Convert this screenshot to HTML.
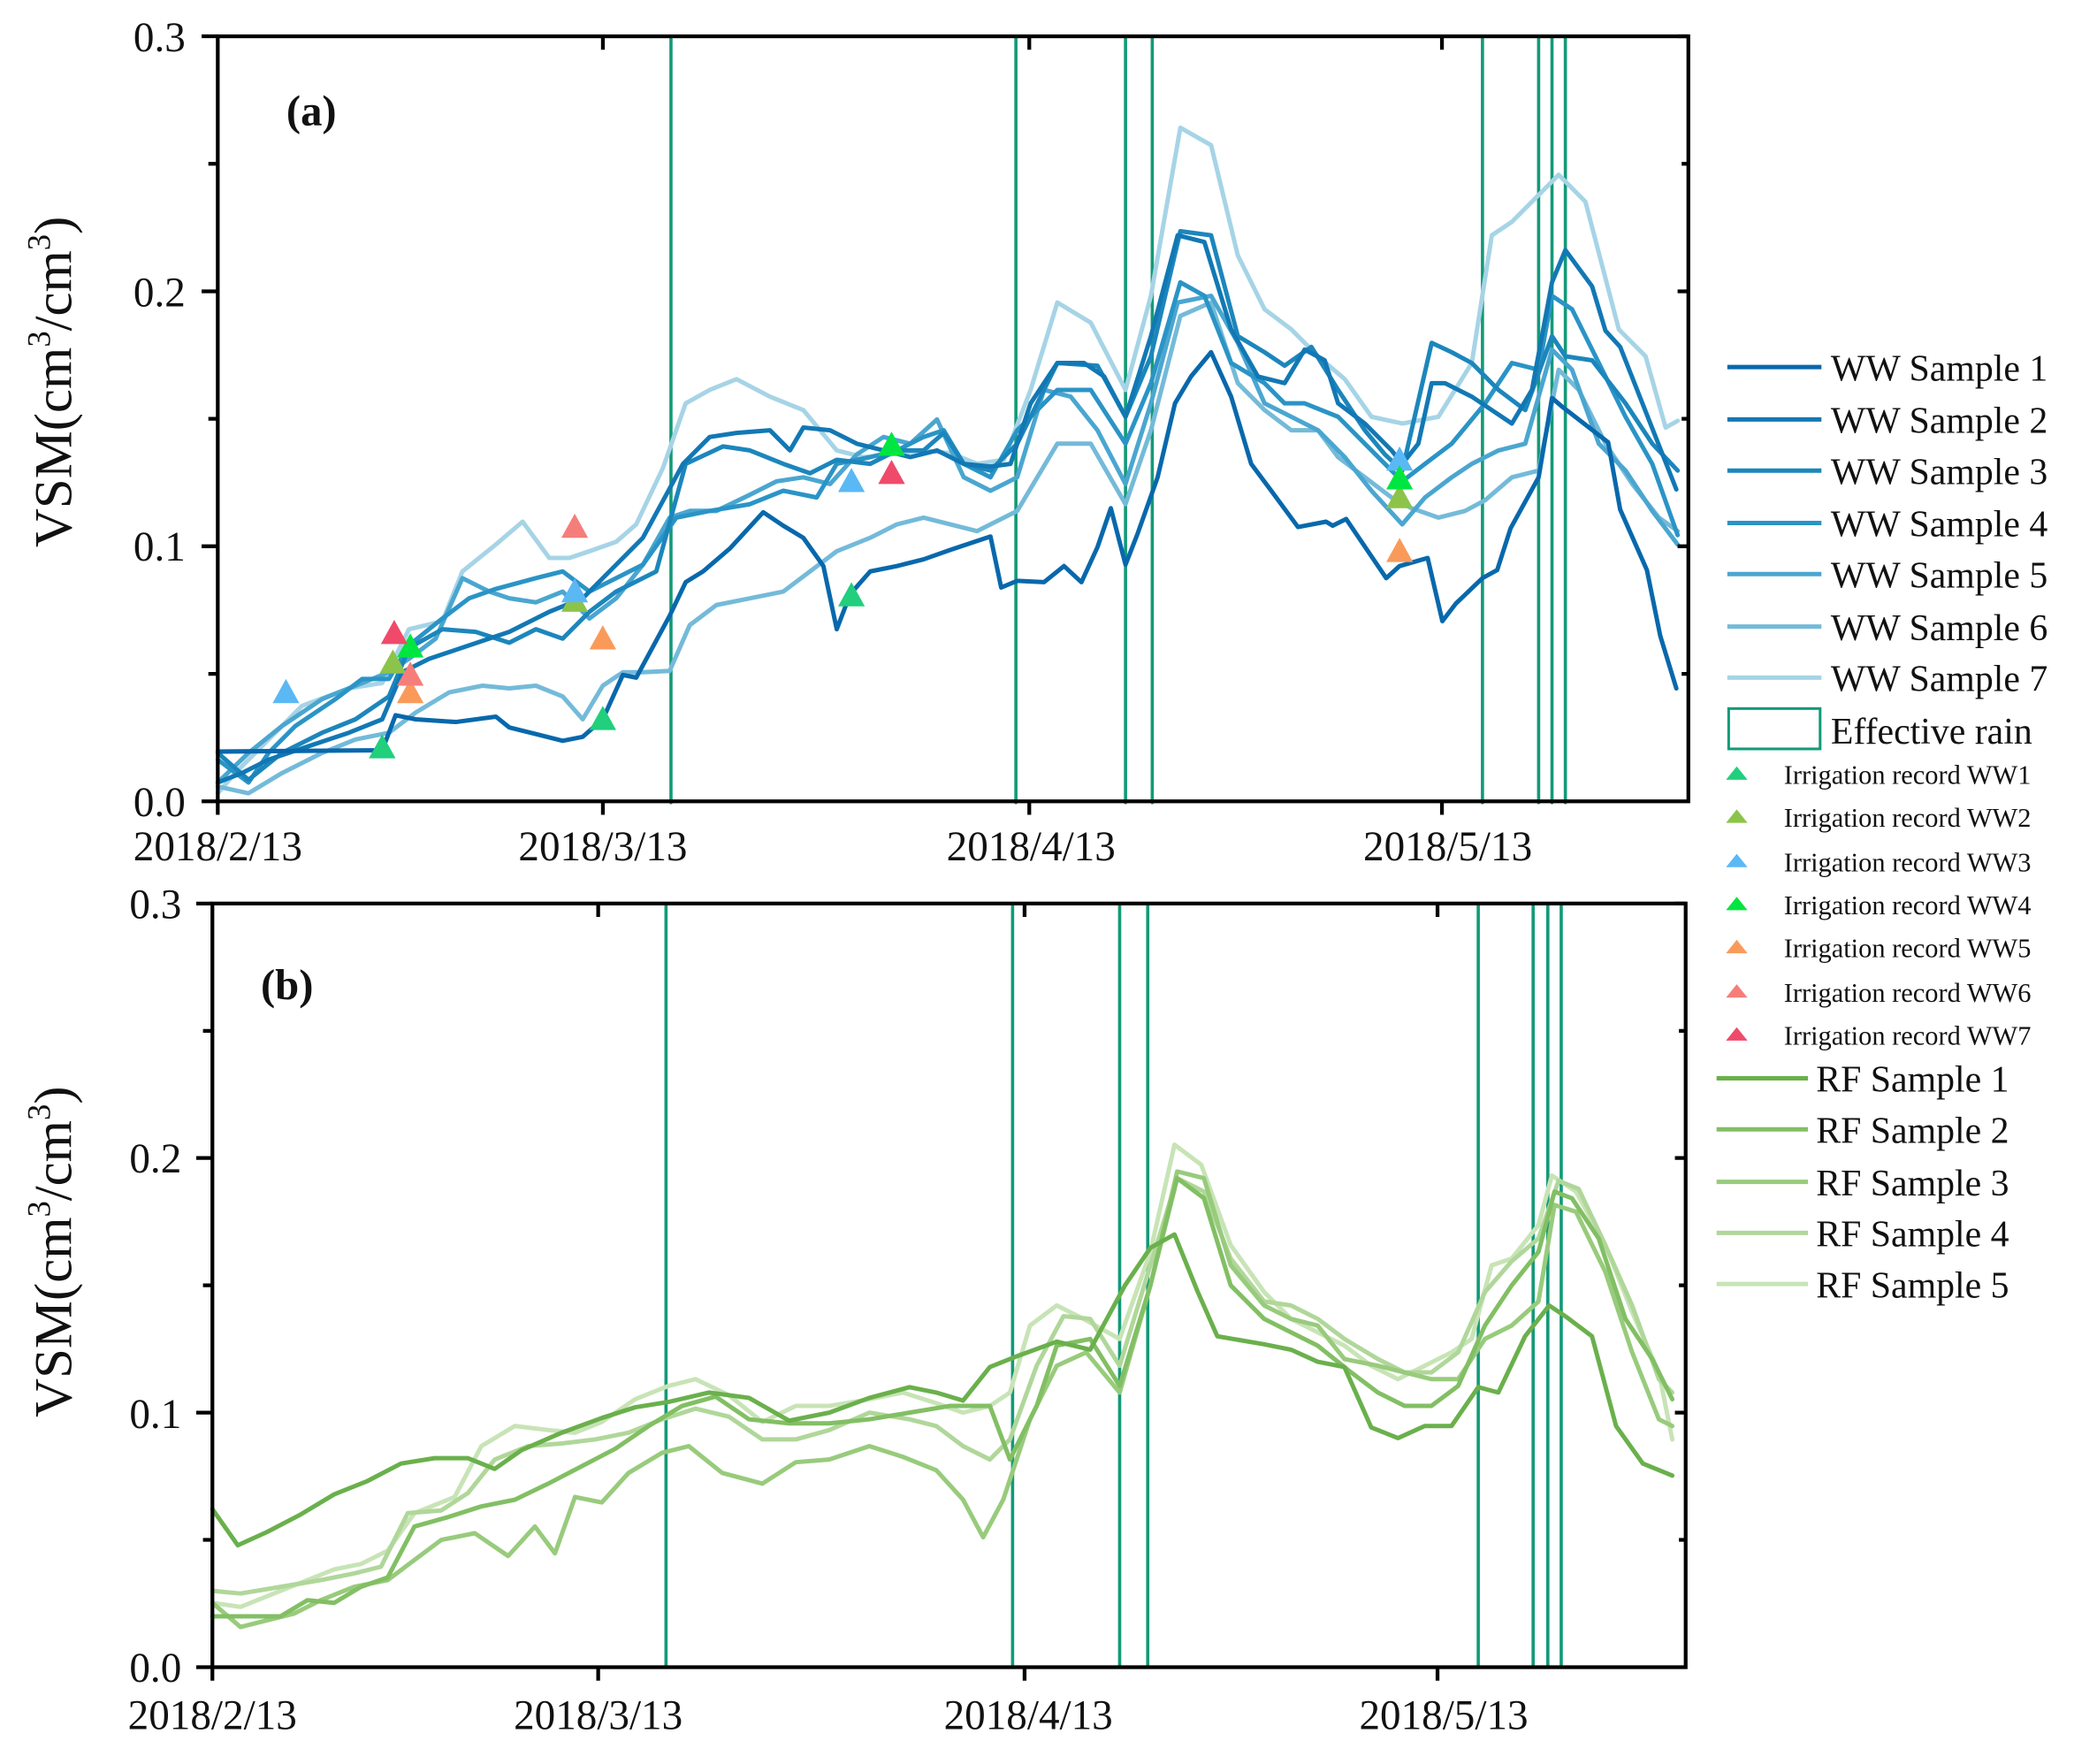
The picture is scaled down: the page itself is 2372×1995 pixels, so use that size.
<!DOCTYPE html>
<html><head><meta charset="utf-8"><style>
html,body{margin:0;padding:0;background:#fff;}
svg{display:block;}
text{font-family:"Liberation Serif",serif;fill:#111;}
</style></head><body>
<svg width="2372" height="1995" viewBox="0 0 1560 1312" preserveAspectRatio="none" xmlns="http://www.w3.org/2000/svg">
<rect width="1560" height="1312" fill="#fff"/>
<defs><path id="tri" d="M0,-10 L10,8 L-10,8 Z"/></defs>
<!-- Panel a data -->
<g transform="matrix(0.99455,0,0,1,0.883,0)">
<g fill="none" stroke-linejoin="round" stroke-linecap="round" stroke-width="3.3">
<g stroke="#149a78" stroke-width="2.4">
<line x1="501" y1="27" x2="501" y2="597"/><line x1="759" y1="27" x2="759" y2="597"/><line x1="841" y1="27" x2="841" y2="597"/><line x1="861" y1="27" x2="861" y2="597"/>
<line x1="1108" y1="27" x2="1108" y2="597"/><line x1="1150" y1="27" x2="1150" y2="597"/><line x1="1160" y1="27" x2="1160" y2="597"/><line x1="1170" y1="27" x2="1170" y2="597"/>
</g>
<polyline stroke="#a6d4e6" points="162,590 175,575 195,555 225,525 260,512 285,508 305,468 330,462 345,425 370,405 390,388 410,415 425,415 440,410 460,403 475,390 495,348 512,300 530,290 550,282 575,295 600,305 625,335 645,340 665,338 690,335 710,337 730,345 750,342 770,290 790,225 815,240 841,290 860,220 882,95 905,108 925,190 945,230 965,245 985,265 1005,282 1025,310 1048,315 1075,310 1100,270 1115,175 1130,165 1150,145 1165,130 1185,150 1210,245 1230,265 1245,318 1254,313"/>
<polyline stroke="#74bad9" points="162,585 185,590 210,575 240,560 265,550 290,545 310,530 335,515 360,510 380,512 400,510 420,518 435,535 450,510 465,500 480,500 500,499 515,465 535,450 560,445 585,440 605,425 625,410 650,400 670,390 690,385 710,390 730,395 760,380 790,330 815,330 841,375 860,320 882,235 905,225 925,285 945,305 965,320 985,320 1000,340 1020,355 1040,370 1055,378 1075,385 1095,380 1110,372 1130,355 1150,350 1165,275 1180,290 1200,330 1220,360 1240,385 1254,395"/>
<polyline stroke="#4aa6d0" points="162,582 185,560 210,540 240,520 265,510 290,500 305,490 325,475 345,430 365,440 380,445 400,448 420,440 440,460 460,445 480,420 500,385 515,380 535,380 560,368 580,358 600,355 620,360 640,338 660,325 680,330 700,312 720,355 740,365 760,355 780,290 800,295 820,320 841,360 860,300 880,225 905,220 925,255 945,300 965,310 985,320 1005,340 1025,365 1048,390 1065,370 1085,355 1100,345 1120,335 1140,330 1160,260 1175,275 1195,330 1215,350 1235,380 1254,405"/>
<polyline stroke="#2a94c6" points="162,565 185,582 200,560 220,540 250,520 270,505 290,505 305,480 330,460 350,445 370,438 400,430 420,425 440,440 460,430 480,420 505,385 530,380 560,375 585,365 610,370 625,345 650,340 670,335 690,325 705,320 720,345 740,355 760,320 790,290 815,290 841,330 860,285 882,210 900,220 920,270 945,285 960,300 975,300 1000,310 1020,330 1040,350 1048,358 1065,345 1085,330 1110,300 1130,270 1150,275 1160,220 1175,230 1195,270 1215,310 1235,345 1254,398"/>
<polyline stroke="#1c86bc" points="162,560 185,580 210,560 240,545 265,535 290,518 305,482 330,468 355,470 380,478 400,468 420,475 440,455 460,440 490,425 512,345 540,332 560,335 585,345 605,352 625,342 650,345 670,335 690,335 705,322 720,345 740,350 760,330 790,270 820,272 841,310 860,265 882,172 905,175 925,250 945,262 960,272 980,258 1000,290 1020,320 1035,338 1048,350 1070,255 1085,262 1100,270 1120,290 1140,305 1160,250 1170,265 1190,268 1215,300 1235,330 1254,350"/>
<polyline stroke="#1278b4" points="162,582 180,575 200,565 230,555 260,545 285,535 300,500 320,490 350,480 380,470 410,455 435,445 460,420 480,400 510,345 530,325 550,322 575,320 590,335 600,318 620,320 640,330 660,335 680,340 700,335 720,345 740,347 755,345 770,300 790,270 810,270 825,280 841,310 860,250 880,175 900,180 920,245 940,280 960,285 975,260 990,268 1000,300 1020,315 1040,335 1048,345 1060,330 1070,285 1080,285 1100,295 1115,305 1130,315 1145,290 1160,210 1170,186 1190,213 1200,246 1211,258 1253,364"/>
<polyline stroke="#0868ac" points="162,559 285,558 295,532 310,535 340,537 370,533 380,541 400,546 420,551 435,548 450,535 465,502 475,504 500,458 512,433 525,425 545,408 570,381 585,391 600,400 615,421 625,468 635,442 650,425 670,421 690,416 710,409 740,399 748,437 760,432 780,433 795,421 808,433 820,407 830,378 841,420 850,397 865,355 878,300 890,280 905,262 920,295 935,345 950,365 970,392 991,388 996,391 1006,386 1036,430 1046,421 1067,415 1078,462 1088,449 1108,430 1119,424 1129,393 1150,355 1160,296 1167,302 1202,329 1211,379 1231,424 1241,473 1253,512"/>
</g>
<g fill="#21cf7d"><use href="#tri" x="285" y="556"/><use href="#tri" x="450" y="535"/><use href="#tri" x="636" y="443"/></g>
<g fill="#8cc44a"><use href="#tri" x="293" y="493"/><use href="#tri" x="429" y="447"/><use href="#tri" x="1046" y="370"/></g>
<g fill="#5ab8f5"><use href="#tri" x="213" y="515"/><use href="#tri" x="429" y="440"/><use href="#tri" x="636" y="358"/><use href="#tri" x="1046" y="342"/></g>
<g fill="#00e640"><use href="#tri" x="306" y="481"/><use href="#tri" x="666" y="331"/><use href="#tri" x="1046" y="356"/></g>
<g fill="#fa9a5a"><use href="#tri" x="306" y="515"/><use href="#tri" x="450" y="475"/><use href="#tri" x="1046" y="410"/></g>
<g fill="#f57e7a"><use href="#tri" x="306" y="502"/><use href="#tri" x="429" y="392"/></g>
<g fill="#f04a6a"><use href="#tri" x="294" y="471"/><use href="#tri" x="666" y="352"/></g>
</g>
<!-- Panel b data -->
<g transform="matrix(0.99546,0,0,0.99649,-0.28,-0.63)">
<g fill="none" stroke-linejoin="round" stroke-linecap="round" stroke-width="3.3">
<g stroke="#149a78" stroke-width="2.4">
<line x1="498" y1="675" x2="498" y2="1245"/><line x1="757" y1="675" x2="757" y2="1245"/><line x1="837" y1="675" x2="837" y2="1245"/><line x1="858" y1="675" x2="858" y2="1245"/>
<line x1="1105" y1="675" x2="1105" y2="1245"/><line x1="1146" y1="675" x2="1146" y2="1245"/><line x1="1157" y1="675" x2="1157" y2="1245"/><line x1="1167" y1="675" x2="1167" y2="1245"/>
</g>
<polyline stroke="#c8e4b6" points="159,1197 180,1200 205,1190 230,1180 250,1172 270,1168 290,1158 310,1130 340,1118 360,1080 385,1065 410,1068 430,1070 450,1062 475,1045 500,1035 520,1030 545,1042 570,1062 595,1050 620,1050 650,1045 675,1040 700,1048 720,1055 740,1050 755,1040 770,990 790,975 810,985 837,1000 860,935 878,855 898,870 920,930 945,965 965,985 985,995 1005,1005 1025,1020 1045,1030 1065,1020 1085,1010 1100,1000 1115,945 1130,940 1150,915 1160,878 1178,890 1200,930 1220,980 1240,1025 1250,1075"/>
<polyline stroke="#b0d79a" points="159,1188 180,1190 210,1185 240,1180 265,1175 285,1170 305,1130 330,1128 350,1115 370,1090 395,1080 420,1078 445,1075 470,1070 495,1060 520,1052 545,1058 570,1075 595,1075 620,1068 650,1055 680,1060 700,1065 720,1080 740,1090 755,1075 775,1020 795,983 815,985 837,1020 860,945 880,880 900,890 920,940 945,972 965,975 985,985 1005,1000 1030,1015 1050,1025 1070,1025 1090,1010 1110,965 1130,942 1150,925 1165,882 1180,888 1200,930 1220,975 1240,1030 1250,1040"/>
<polyline stroke="#98cb7c" points="159,1197 180,1215 200,1210 220,1205 240,1195 265,1185 290,1180 310,1165 330,1150 355,1145 380,1162 400,1140 415,1160 430,1118 450,1122 470,1100 495,1085 515,1080 540,1100 570,1108 595,1092 620,1090 650,1080 675,1088 700,1098 720,1120 735,1148 750,1120 770,1060 790,1020 812,1010 837,1040 860,960 880,875 900,880 920,945 945,975 965,985 985,990 1005,1015 1030,1020 1050,1025 1070,1030 1090,1030 1110,1000 1130,990 1150,972 1162,900 1178,905 1200,950 1220,1010 1240,1060 1250,1065"/>
<polyline stroke="#82bf64" points="159,1207 180,1207 210,1207 230,1195 250,1197 270,1185 290,1178 310,1140 335,1133 360,1125 385,1120 410,1108 435,1095 460,1082 485,1065 510,1050 535,1043 560,1060 590,1063 620,1063 650,1060 680,1055 710,1050 740,1050 755,1090 775,1050 790,1005 815,1000 837,1035 860,960 880,880 900,895 920,960 945,985 965,995 985,1005 1010,1025 1030,1040 1050,1050 1070,1050 1090,1035 1110,990 1130,960 1150,935 1162,890 1175,895 1195,925 1215,985 1235,1015 1250,1045"/>
<polyline stroke="#6ab04c" points="159,1127 178,1154 200,1144 225,1131 250,1116 275,1106 300,1093 325,1089 350,1089 370,1097 390,1083 420,1070 450,1059 475,1051 500,1047 530,1040 560,1044 590,1061 620,1055 650,1044 680,1036 700,1040 720,1046 740,1021 760,1013 790,1002 815,1008 841,960 860,932 878,922 895,964 910,998 945,1004 965,1008 985,1017 1005,1021 1025,1066 1045,1074 1065,1065 1085,1065 1105,1036 1120,1040 1140,998 1158,975 1170,983 1190,998 1208,1065 1228,1093 1250,1102"/>
</g>
</g>
<!-- axes frames -->
<g stroke="#000" stroke-width="2.8" fill="none">
<rect x="162" y="27" width="1094" height="569"/>
<rect x="158" y="672" width="1096" height="568"/>
<path d="M150,27H162M150,216.7H162M150,406.3H162M150,596H162M155,121.8H162M155,311.5H162M155,501.2H162"/>
<path d="M1256,27H1248M1256,216.7H1248M1256,406.3H1248M1256,121.8H1251M1256,311.5H1251M1256,501.2H1251"/>
<path d="M162,596V606M448.5,596V606M765.7,596V606M1072.7,596V606M448.5,27V37M765.7,27V37M1072.7,27V37"/>
<path d="M146,672H158M146,861.3H158M146,1050.7H158M146,1240H158M151,766.7H158M151,956H158M151,1145.3H158"/>
<path d="M1254,672H1246M1254,861.3H1246M1254,1050.7H1246M1254,766.7H1249M1254,956H1249M1254,1145.3H1249"/>
<path d="M158,1240V1250M445,1240V1250M762.2,1240V1250M1069.4,1240V1250M445,672V682M762.2,672V682M1069.4,672V682"/>
</g>
<g font-size="31" text-anchor="end">
<text x="138" y="38">0.3</text><text x="138" y="228">0.2</text><text x="138" y="417">0.1</text><text x="138" y="607">0.0</text>
<text x="135" y="683">0.3</text><text x="135" y="872">0.2</text><text x="135" y="1062">0.1</text><text x="135" y="1251">0.0</text>
</g>
<g font-size="31" text-anchor="middle">
<text x="162" y="640">2018/2/13</text><text x="448.5" y="640">2018/3/13</text><text x="767" y="640">2018/4/13</text><text x="1077" y="640">2018/5/13</text>
<text x="158" y="1286">2018/2/13</text><text x="445" y="1286">2018/3/13</text><text x="765" y="1286">2018/4/13</text><text x="1074" y="1286">2018/5/13</text>
</g>
<text transform="translate(53,284) rotate(-90)" font-size="40" text-anchor="middle">VSM(cm<tspan font-size="24" dy="-16">3</tspan><tspan dy="16">/cm</tspan><tspan font-size="24" dy="-16">3</tspan><tspan dy="16">)</tspan></text>
<text transform="translate(53,931) rotate(-90)" font-size="40" text-anchor="middle">VSM(cm<tspan font-size="24" dy="-16">3</tspan><tspan dy="16">/cm</tspan><tspan font-size="24" dy="-16">3</tspan><tspan dy="16">)</tspan></text>
<text x="213" y="93" font-size="32" font-weight="bold">(a)</text>
<text x="194" y="743" font-size="32" font-weight="bold">(b)</text>
<!-- legend -->
<g stroke-width="3.3">
<line x1="1285" y1="273" x2="1355" y2="273" stroke="#0868ac"/>
<line x1="1285" y1="312" x2="1355" y2="312" stroke="#1278b4"/>
<line x1="1285" y1="350" x2="1355" y2="350" stroke="#1c86bc"/>
<line x1="1285" y1="389" x2="1355" y2="389" stroke="#2a94c6"/>
<line x1="1285" y1="427" x2="1355" y2="427" stroke="#4aa6d0"/>
<line x1="1285" y1="466" x2="1355" y2="466" stroke="#74bad9"/>
<line x1="1285" y1="504" x2="1355" y2="504" stroke="#a6d4e6"/>
<line x1="1277" y1="802" x2="1345" y2="802" stroke="#6ab04c"/>
<line x1="1277" y1="840" x2="1345" y2="840" stroke="#82bf64"/>
<line x1="1277" y1="879" x2="1345" y2="879" stroke="#98cb7c"/>
<line x1="1277" y1="917" x2="1345" y2="917" stroke="#b0d79a"/>
<line x1="1277" y1="955" x2="1345" y2="955" stroke="#c8e4b6"/>
</g>
<rect x="1286" y="527" width="68" height="30" fill="none" stroke="#149a78" stroke-width="2"/>
<g font-size="27.5">
<text x="1362" y="283">WW Sample 1</text><text x="1362" y="322">WW Sample 2</text><text x="1362" y="360">WW Sample 3</text><text x="1362" y="399">WW Sample 4</text><text x="1362" y="437">WW Sample 5</text><text x="1362" y="476">WW Sample 6</text><text x="1362" y="514">WW Sample 7</text>
<text x="1362" y="553">Effective rain</text>
<text x="1351" y="812">RF Sample 1</text><text x="1351" y="850">RF Sample 2</text><text x="1351" y="889">RF Sample 3</text><text x="1351" y="927">RF Sample 4</text><text x="1351" y="965">RF Sample 5</text>
</g>
<g>
<path d="M1292,570 L1300,580 L1284,580 Z" fill="#21cf7d"/>
<path d="M1292,602 L1300,612 L1284,612 Z" fill="#8cc44a"/>
<path d="M1292,635 L1300,645 L1284,645 Z" fill="#5ab8f5"/>
<path d="M1292,667 L1300,677 L1284,677 Z" fill="#00e640"/>
<path d="M1292,699 L1300,709 L1284,709 Z" fill="#fa9a5a"/>
<path d="M1292,732 L1300,742 L1284,742 Z" fill="#f57e7a"/>
<path d="M1292,764 L1300,774 L1284,774 Z" fill="#f04a6a"/>
</g>
<g font-size="20">
<text x="1327" y="583">Irrigation record WW1</text><text x="1327" y="615">Irrigation record WW2</text><text x="1327" y="648">Irrigation record WW3</text><text x="1327" y="680">Irrigation record WW4</text><text x="1327" y="712">Irrigation record WW5</text><text x="1327" y="745">Irrigation record WW6</text><text x="1327" y="777">Irrigation record WW7</text>
</g>
</svg>
</body></html>
